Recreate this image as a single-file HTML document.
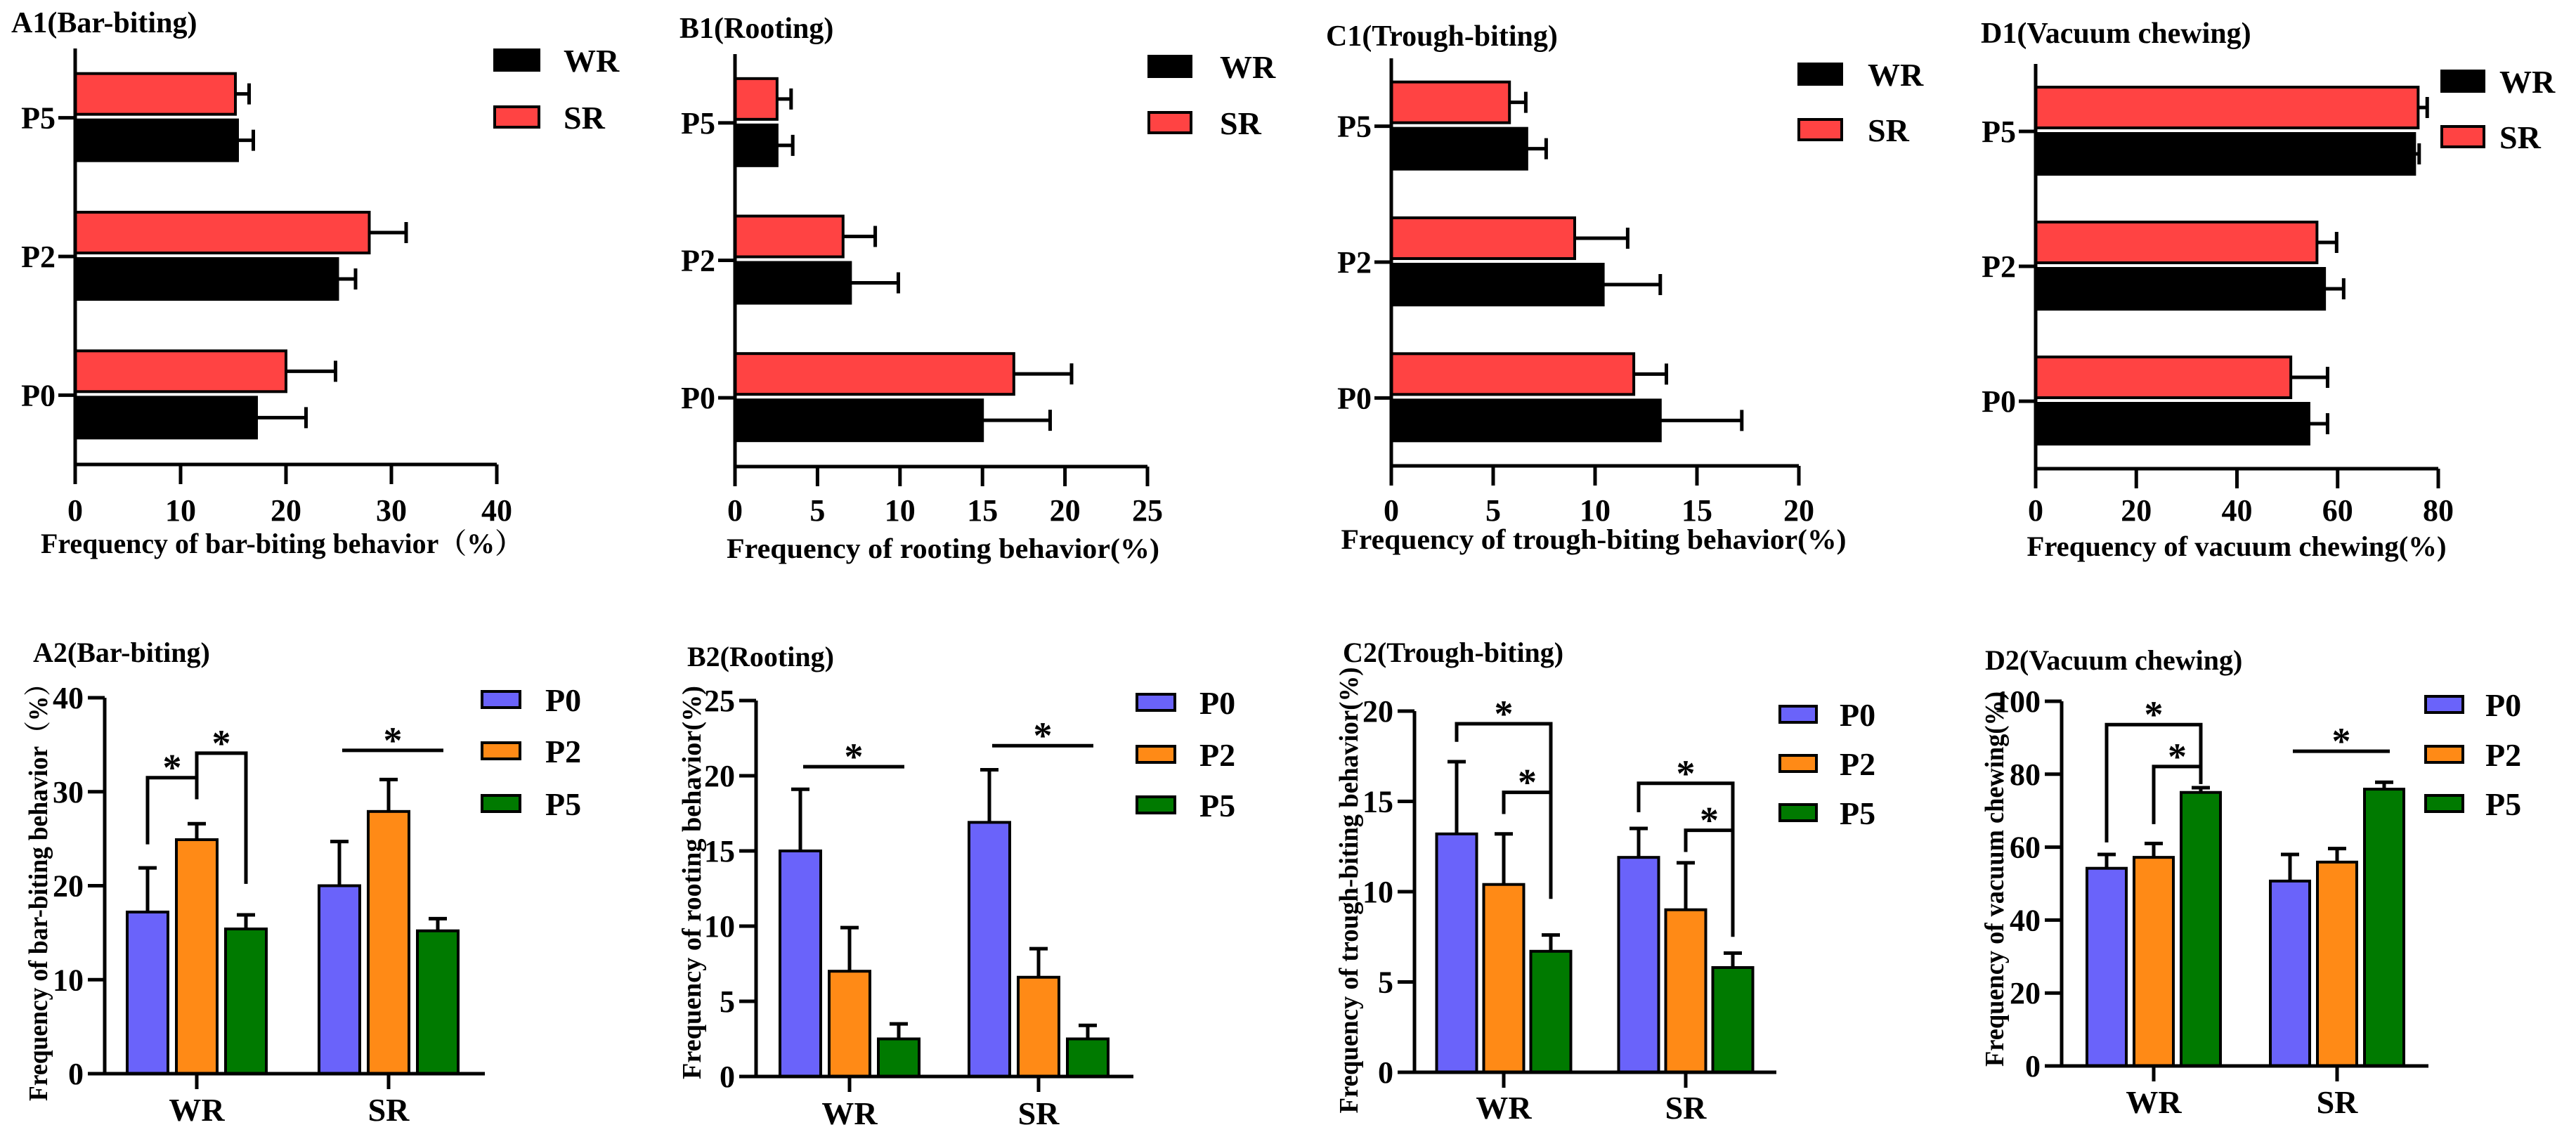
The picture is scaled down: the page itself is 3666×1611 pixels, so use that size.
<!DOCTYPE html>
<html><head><meta charset="utf-8"><title>Behavior frequency charts</title>
<style>
html,body{margin:0;padding:0;background:#fff;}
svg{display:block;}
svg text{font-family:"Liberation Serif","DejaVu Serif","Noto Serif CJK SC",serif !important;font-weight:bold;fill:#000;}
</style></head>
<body>
<svg id="fig" xmlns="http://www.w3.org/2000/svg" width="3666" height="1611" viewBox="0 0 3666 1611" font-family="'Liberation Serif', 'DejaVu Serif', serif" font-weight="bold"></svg>
<script>
// ---------- DATA: row 1 (horizontal bars, categories bottom→top) ----------
const hCats = ['P0', 'P2', 'P5'];
const A1_WR = [17.2, 24.9, 15.4];
const A1_WR_ERR = [21.9, 26.6, 16.9];
const A1_SR = [20.0, 27.9, 15.2];
const A1_SR_ERR = [24.7, 31.4, 16.5];
const A1_TICKS = [0, 10, 20, 30, 40];

const B1_WR = [15.0, 7.0, 2.55];
const B1_WR_ERR = [19.1, 9.9, 3.5];
const B1_SR = [16.9, 6.55, 2.55];
const B1_SR_ERR = [20.4, 8.5, 3.4];
const B1_TICKS = [0, 5, 10, 15, 20, 25];

const C1_WR = [13.2, 10.4, 6.65];
const C1_WR_ERR = [17.2, 13.2, 7.6];
const C1_SR = [11.9, 9.0, 5.8];
const C1_SR_ERR = [13.5, 11.6, 6.6];
const C1_TICKS = [0, 5, 10, 15, 20];

const D1_WR = [54.3, 57.4, 75.3];
const D1_WR_ERR = [58.0, 61.2, 76.2];
const D1_SR = [50.7, 55.9, 76.0];
const D1_SR_ERR = [58.0, 59.8, 77.8];
const D1_TICKS = [0, 20, 40, 60, 80];

// ---------- DATA: row 2 (vertical grouped bars) ----------
const vGroups = ['WR', 'SR'];
const vSeries = ['P0', 'P2', 'P5'];
const A2_P0 = [17.2, 20.0], A2_P0_ERR = [21.9, 24.7];
const A2_P2 = [24.9, 27.9], A2_P2_ERR = [26.6, 31.3];
const A2_P5 = [15.4, 15.2], A2_P5_ERR = [16.9, 16.5];
const A2_TICKS = [0, 10, 20, 30, 40];

const B2_P0 = [15.0, 16.9], B2_P0_ERR = [19.1, 20.4];
const B2_P2 = [7.0, 6.6], B2_P2_ERR = [9.9, 8.5];
const B2_P5 = [2.5, 2.5], B2_P5_ERR = [3.5, 3.4];
const B2_TICKS = [0, 5, 10, 15, 20, 25];

const C2_P0 = [13.2, 11.9], C2_P0_ERR = [17.2, 13.5];
const C2_P2 = [10.4, 9.0], C2_P2_ERR = [13.2, 11.6];
const C2_P5 = [6.7, 5.8], C2_P5_ERR = [7.6, 6.6];
const C2_TICKS = [0, 5, 10, 15, 20];

const D2_P0 = [54.2, 50.7], D2_P0_ERR = [58.0, 58.0];
const D2_P2 = [57.2, 55.9], D2_P2_ERR = [61.0, 59.6];
const D2_P5 = [75.0, 75.9], D2_P5_ERR = [76.3, 77.8];
const D2_TICKS = [0, 20, 40, 60, 80, 100];

// significance brackets: [group, fromBar, toBar, leftEnd, top, rightEnd] (value units)
const A2_BRACKETS = [[0, 0, 1, 24.4, 31.5, 29.2], [0, 1, 2, 29.2, 34.1, 20.2]];
const A2_LINES = [[1, 0, 2, 34.4]];
const B2_BRACKETS = [];
const B2_LINES = [[0, 0, 2, 20.6], [1, 0, 2, 22.0]];
const C2_BRACKETS = [[0, 0, 2, 18.3, 19.3, 9.6], [0, 1, 2, 14.3, 15.5, 15.5], [1, 0, 2, 14.4, 16.0, 7.5], [1, 1, 2, 12.2, 13.4, 13.4]];
const C2_LINES = [];
const D2_BRACKETS = [[0, 0, 2, 61.3, 93.6, 77.3], [0, 1, 2, 66.3, 82.1, 82.1]];
const D2_LINES = [[1, 0, 2, 86.3]];

// ---------- rendering ----------
const NS = 'http://www.w3.org/2000/svg';
const svg = document.getElementById('fig');
const FONT = "'Liberation Serif', 'DejaVu Serif', 'Noto Serif CJK SC', serif";
function mk(tag, attrs, parent) {
  const el = document.createElementNS(NS, tag);
  for (const k in attrs) el.setAttribute(k, attrs[k]);
  (parent || svg).appendChild(el);
  return el;
}
function txt(s, attrs, parent) {
  const el = mk('text', attrs, parent);
  el.setAttribute('font-family', FONT);
  el.setAttribute('font-weight', 'bold');
  el.textContent = s;
  return el;
}
const RED = '#ff4343', BLUE = '#6a63fa', ORANGE = '#ff8a16', GREEN = '#007a00';
const SW = 5;

function drawH(id, L, wr, wrE, sr, srE, ticks, title, xTitle) {
  const g = mk('g', {});
  
  
  const max = ticks[ticks.length - 1];
  const xs = v => L.x0 + v * (L.x1 - L.x0) / max;
  const cy = i => L.bottom - (L.bottom - L.top) * (i + 0.5) / 3;
  const t = txt(title, {x: L.tx, y: L.ty, 'font-size': 42}, g);
  
  
  for (let i = 0; i < hCats.length; i++) {
    const c = cy(i);
    const eS = mk('path', {d: `M${xs(sr[i])},${c - 34}H${xs(srE[i])}M${xs(srE[i])},${c - 49}V${c - 19}`, stroke: '#000', 'stroke-width': 5, fill: 'none'}, g);
    
    
    const bS = mk('rect', {x: xs(0), y: c - 63, width: xs(sr[i]) - xs(0), height: 58, fill: RED, stroke: '#000', 'stroke-width': 4}, g);
    
    
    const eW = mk('path', {d: `M${xs(wr[i])},${c + 32}H${xs(wrE[i])}M${xs(wrE[i])},${c + 17}V${c + 47}`, stroke: '#000', 'stroke-width': 5, fill: 'none'}, g);
    
    
    const bW = mk('rect', {x: xs(0), y: c + 3, width: xs(wr[i]) - xs(0), height: 58, fill: '#000', stroke: '#000', 'stroke-width': 4}, g);
    
    
    const tk = mk('line', {x1: L.x0 - 24, x2: L.x0, y1: c, y2: c, stroke: '#000', 'stroke-width': SW}, g);
    
    
    const lb = txt(hCats[i], {x: L.x0 - 28, y: c + 15, 'font-size': 44, 'text-anchor': 'end'}, g);
    
    
  }
  const ax = mk('path', {d: `M${L.x0},${L.top}V${L.bottom}H${L.x1}`, stroke: '#000', 'stroke-width': SW, fill: 'none'}, g);
  
  
  for (const v of ticks) {
    const tk = mk('line', {x1: xs(v), x2: xs(v), y1: L.bottom, y2: L.bottom + 28, stroke: '#000', 'stroke-width': SW}, g);
    
    
    const lb = txt(String(v), {x: xs(v), y: 741, 'font-size': 44, 'text-anchor': 'middle'}, g);
    
    
  }
  const xt = txt(xTitle, {x: L.xtc - L.xtl / 2, y: L.xty + 14, 'font-size': 40, textLength: L.xtl, lengthAdjust: 'spacingAndGlyphs'}, g);
  
  
  const lg = mk('g', {}, g);
  
  
  const r1 = mk('rect', {x: L.lx, y: L.ly[0], width: L.lw, height: 29, fill: '#000', stroke: '#000', 'stroke-width': 4}, lg);
  
  
  const t1 = txt('WR', {x: L.ltx, y: L.ly[0] + 31, 'font-size': 46}, lg);
  
  
  const r2 = mk('rect', {x: L.lx, y: L.ly[1], width: L.lw, height: 29, fill: RED, stroke: '#000', 'stroke-width': 4}, lg);
  
  
  const t2 = txt('SR', {x: L.ltx, y: L.ly[1] + 31, 'font-size': 46}, lg);
  
  
}

function drawV(id, L, vals, errs, ticks, brackets, lines, title, yTitle) {
  const g = mk('g', {});
  
  
  const max = ticks[ticks.length - 1];
  const ys = v => L.y0 - v * (L.y0 - L.yTop) / max;
  const bx = (gi, k) => L.groups[gi] + (k - 1) * L.step;
  const colors = [BLUE, ORANGE, GREEN];
  const t = txt(title, {x: L.tx, y: L.ty, 'font-size': 40}, g);
  
  
  for (let gi = 0; gi < vGroups.length; gi++) {
    for (let k = 0; k < vSeries.length; k++) {
      const c = bx(gi, k);
      const e = mk('path', {d: `M${c},${ys(vals[k][gi])}V${ys(errs[k][gi])}M${c - 13},${ys(errs[k][gi])}H${c + 13}`, stroke: '#000', 'stroke-width': 5, fill: 'none'}, g);
      
      
      const b = mk('rect', {x: c - L.bw / 2, y: ys(vals[k][gi]), width: L.bw, height: ys(0) - ys(vals[k][gi]), fill: colors[k], stroke: '#000', 'stroke-width': 4}, g);
      
      
    }
    const tk = mk('line', {x1: L.groups[gi], x2: L.groups[gi], y1: L.y0, y2: L.y0 + 22, stroke: '#000', 'stroke-width': SW}, g);
    
    
    const lb = txt(vGroups[gi], {x: L.groups[gi], y: L.xly + 15, 'font-size': 46, 'text-anchor': 'middle'}, g);
    
    
  }
  const ax = mk('path', {d: `M${L.x0},${L.yTop}V${L.y0}H${L.xEnd}`, stroke: '#000', 'stroke-width': SW, fill: 'none'}, g);
  
  
  for (const v of ticks) {
    const tk = mk('line', {x1: L.x0 - 24, x2: L.x0, y1: ys(v), y2: ys(v), stroke: '#000', 'stroke-width': SW}, g);
    
    
    const lb = txt(String(v), {x: L.x0 - 30, y: ys(v) + 15, 'font-size': 44, 'text-anchor': 'end'}, g);
    
    
  }
  const yt = txt(yTitle, {x: 0, y: 0, 'font-size': 38, 'text-anchor': 'middle', 'dominant-baseline': 'central', textLength: L.ytl, lengthAdjust: 'spacingAndGlyphs', transform: `translate(${L.ytx},${L.yty}) rotate(-90)`}, g);
  
  
  for (const br of brackets) {
    const xa = bx(br[0], br[1]), xb = bx(br[0], br[2]);
    const p = mk('path', {d: `M${xa},${ys(br[3])}V${ys(br[4])}H${xb}V${ys(br[5])}`, stroke: '#000', 'stroke-width': 5, fill: 'none'}, g);
    
    
    const s = txt('*', {x: (xa + xb) / 2, y: ys(br[4]) + 4, 'font-size': 54, 'text-anchor': 'middle'}, g);
    
    
  }
  for (const ln of lines) {
    const xa = bx(ln[0], ln[1]) + 4, xb = bx(ln[0], ln[2]) + 8;
    const p = mk('line', {x1: xa, x2: xb, y1: ys(ln[3]), y2: ys(ln[3]), stroke: '#000', 'stroke-width': 5}, g);
    
    
    const s = txt('*', {x: (xa + xb) / 2, y: ys(ln[3]) + 4, 'font-size': 54, 'text-anchor': 'middle'}, g);
    
    
  }
  const lg = mk('g', {}, g);
  
  
  for (let k = 0; k < vSeries.length; k++) {
    const r = mk('rect', {x: L.lx, y: L.ly[k], width: L.lw, height: 23, fill: colors[k], stroke: '#000', 'stroke-width': 4}, lg);
    
    
    const tl = txt(vSeries[k], {x: L.ltx, y: L.ly[k] + 28, 'font-size': 46}, lg);
    
    
  }
}

drawH('a1', {x0: 107, x1: 707, top: 69, bottom: 661, tx: 16, ty: 46, xtc: 401, xtl: 686, xty: 773, lx: 704, lw: 63, ly: [71, 152], ltx: 802},
  A1_WR, A1_WR_ERR, A1_SR, A1_SR_ERR, A1_TICKS, 'A1(Bar-biting)', 'Frequency of bar-biting behavior（%）');
drawH('b1', {x0: 1046, x1: 1633, top: 77, bottom: 664, tx: 967, ty: 54, xtc: 1342, xtl: 616, xty: 780, lx: 1635, lw: 60, ly: [80, 160], ltx: 1736},
  B1_WR, B1_WR_ERR, B1_SR, B1_SR_ERR, B1_TICKS, 'B1(Rooting)', 'Frequency of rooting behavior(%)');
drawH('c1', {x0: 1980, x1: 2560, top: 83, bottom: 663, tx: 1887, ty: 65, xtc: 2268, xtl: 719, xty: 767, lx: 2560, lw: 61, ly: [91, 170], ltx: 2658},
  C1_WR, C1_WR_ERR, C1_SR, C1_SR_ERR, C1_TICKS, 'C1(Trough-biting)', 'Frequency of trough-biting behavior(%)');
drawH('d1', {x0: 2897, x1: 3470, top: 91, bottom: 667, tx: 2819, ty: 61, xtc: 3183, xtl: 597, xty: 777, lx: 3475, lw: 60, ly: [101, 180], ltx: 3557},
  D1_WR, D1_WR_ERR, D1_SR, D1_SR_ERR, D1_TICKS, 'D1(Vacuum chewing)', 'Frequency of vacuum chewing(%)');

drawV('a2', {x0: 149, y0: 1528, yTop: 993, xEnd: 690, groups: [280, 553], step: 70, bw: 58, tx: 47, ty: 942, xly: 1580, ytx: 55, yty: 1261, ytl: 612, lx: 686, lw: 54, ly: [984, 1057, 1132], ltx: 776},
  [A2_P0, A2_P2, A2_P5], [A2_P0_ERR, A2_P2_ERR, A2_P5_ERR], A2_TICKS, A2_BRACKETS, A2_LINES, 'A2(Bar-biting)', 'Frequency of bar-biting behavior（%）');
drawV('b2', {x0: 1076, y0: 1532, yTop: 997, xEnd: 1613, groups: [1209, 1478], step: 70, bw: 58, tx: 978, ty: 948, xly: 1585, ytx: 985, yty: 1256, ytl: 560, lx: 1618, lw: 54, ly: [988, 1062, 1134], ltx: 1707},
  [B2_P0, B2_P2, B2_P5], [B2_P0_ERR, B2_P2_ERR, B2_P5_ERR], B2_TICKS, B2_BRACKETS, B2_LINES, 'B2(Rooting)', 'Frequency of rooting behavior(%)');
drawV('c2', {x0: 2013, y0: 1526, yTop: 1012, xEnd: 2528, groups: [2140, 2399], step: 67, bw: 57, tx: 1911, ty: 942, xly: 1577, ytx: 1920, yty: 1267, ytl: 635, lx: 2533, lw: 52, ly: [1005, 1075, 1145], ltx: 2618},
  [C2_P0, C2_P2, C2_P5], [C2_P0_ERR, C2_P2_ERR, C2_P5_ERR], C2_TICKS, C2_BRACKETS, C2_LINES, 'C2(Trough-biting)', 'Frequency of trough-biting behavior(%)');
drawV('d2', {x0: 2934, y0: 1517, yTop: 998, xEnd: 3456, groups: [3065, 3326], step: 67, bw: 56, tx: 2825, ty: 953, xly: 1569, ytx: 2839, yty: 1251, ytl: 534, lx: 3452, lw: 53, ly: [991, 1062, 1132], ltx: 3537},
  [D2_P0, D2_P2, D2_P5], [D2_P0_ERR, D2_P2_ERR, D2_P5_ERR], D2_TICKS, D2_BRACKETS, D2_LINES, 'D2(Vacuum chewing)', 'Frequency of vacuum chewing(%)');
</script>
</body></html>
